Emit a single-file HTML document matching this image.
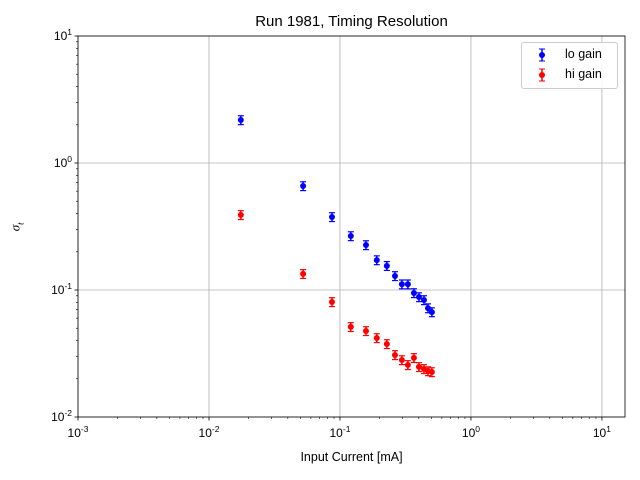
<!DOCTYPE html>
<html><head><meta charset="utf-8"><style>
body{margin:0;background:#fff}
svg{display:block;font-family:"Liberation Sans","DejaVu Sans",sans-serif}
</style></head><body>
<svg id="chart" width="640" height="480" viewBox="0 0 640 480"></svg>
<script>
const currents=[0.0175,0.0523,0.0869,0.121,0.158,0.191,0.228,0.263,0.297,0.330,0.367,0.401,0.438,0.470,0.503];
const loGain=[2.18,0.659,0.376,0.266,0.226,0.172,0.155,0.129,0.111,0.111,0.0947,0.088,0.0834,0.072,0.067];
const hiGain=[0.39,0.134,0.0805,0.0512,0.0476,0.0419,0.0376,0.0308,0.0281,0.0257,0.0292,0.0248,0.0239,0.023,0.0226];
const relErr=[0.08,0.08,0.08,0.08,0.08,0.08,0.08,0.08,0.08,0.08,0.08,0.08,0.08,0.08,0.08];
const xTickExp=[-3,-2,-1,0,1];
const yTickExp=[-2,-1,0,1];

const L=78,R=625,T=36,B=417;
const xmin=-3,xmax=Math.log10(15),ymin=-2,ymax=1;
const X=v=>L+(Math.log10(v)-xmin)/(xmax-xmin)*(R-L);
const Y=v=>B-(Math.log10(v)-ymin)/(ymax-ymin)*(B-T);
const svg=document.getElementById('chart');
const NS='http://www.w3.org/2000/svg';
function mk(tag,at,parent){const e=document.createElementNS(NS,tag);for(const k in at)e.setAttribute(k,at[k]);(parent||svg).appendChild(e);return e;}

xTickExp.forEach(e=>{const x=X(Math.pow(10,e));
 const g=mk('line',{x1:x,x2:x,y1:T,y2:B,stroke:'#b0b0b0','stroke-width':0.8});
 
 });
yTickExp.forEach(e=>{const y=Y(Math.pow(10,e));
 const g=mk('line',{x1:L,x2:R,y1:y,y2:y,stroke:'#b0b0b0','stroke-width':0.8});
 
 });

xTickExp.forEach(e=>{const x=X(Math.pow(10,e));
 mk('line',{x1:x,x2:x,y1:B,y2:B+3.5,stroke:'#000','stroke-width':0.8});
 const t=mk('text',{x:x,y:B+20,'font-size':12,'text-anchor':'middle'});
 t.innerHTML='10<tspan dy="-5" font-size="8.5">'+e+'</tspan>';
 
 
 for(let m=2;m<10;m++){const xv=X(m*Math.pow(10,e));if(xv<=R)mk('line',{x1:xv,x2:xv,y1:B,y2:B+2,stroke:'#000','stroke-width':0.6});}
});
yTickExp.forEach(e=>{const y=Y(Math.pow(10,e));
 mk('line',{x1:L,x2:L-3.5,y1:y,y2:y,stroke:'#000','stroke-width':0.8});
 const t=mk('text',{x:L-6,y:y+4,'font-size':12,'text-anchor':'end'});
 t.innerHTML='10<tspan dy="-5" font-size="8.5">'+e+'</tspan>';
 
 
 if(e<1)for(let m=2;m<10;m++){const yv=Y(m*Math.pow(10,e));mk('line',{x1:L,x2:L-2,y1:yv,y2:yv,stroke:'#000','stroke-width':0.6});}
});

function series(vals,color,name){
 const g=mk('g',{});
 
 
 currents.forEach((c,i)=>{const x=X(c),v=vals[i],e=v*relErr[i];
  const y1=Y(v+e),y2=Y(v-e);
  mk('line',{x1:x,x2:x,y1:y1,y2:y2,stroke:color,'stroke-width':1.5},g);
  mk('line',{x1:x-3,x2:x+3,y1:y1,y2:y1,stroke:color,'stroke-width':1.2},g);
  mk('line',{x1:x-3,x2:x+3,y1:y2,y2:y2,stroke:color,'stroke-width':1.2},g);
  const p=mk('circle',{cx:x,cy:Y(v),r:3,fill:color},g);
  
  
 });
}
series(loGain,'#0000ff','lo-gain-series');
series(hiGain,'#ff0000','hi-gain-series');

mk('rect',{x:L,y:T,width:R-L,height:B-T,fill:'none',stroke:'#000','stroke-width':0.8});
</script>
<div style="position:absolute;left:0;top:0;width:640px;height:480px;pointer-events:none">
<div style="position:absolute;left:78px;width:547px;top:13px;text-align:center;font:15px 'Liberation Sans','DejaVu Sans',sans-serif">Run 1981, Timing Resolution</div>
<div style="position:absolute;left:78px;width:547px;top:450px;text-align:center;font:12.5px 'Liberation Sans','DejaVu Sans',sans-serif">Input Current [mA]</div>
<div style="position:absolute;left:12px;top:218px;transform:rotate(-90deg);font:italic 13px 'Liberation Serif','DejaVu Serif',serif">σ<sub style="font-size:9px">t</sub></div>
<div style="position:absolute;left:521px;top:42px;width:95px;height:45px;border:1px solid #ccc;border-radius:3px;background:rgba(255,255,255,0.85);font:12.5px 'Liberation Sans','DejaVu Sans',sans-serif">
 <div style="position:absolute;left:10px;top:4px;width:85px;height:16px">
  <svg width="20" height="16" style="position:absolute;left:0;top:0"><line x1="10" x2="10" y1="2" y2="14" stroke="#00f" stroke-width="1.5"/><line x1="7" x2="13" y1="2" y2="2" stroke="#00f"/><line x1="7" x2="13" y1="14" y2="14" stroke="#00f"/><circle cx="10" cy="8" r="3" fill="#00f"/></svg>
  <span style="position:absolute;left:33px;top:0">lo gain</span></div>
 <div style="position:absolute;left:10px;top:24px;width:85px;height:16px">
  <svg width="20" height="16" style="position:absolute;left:0;top:0"><line x1="10" x2="10" y1="2" y2="14" stroke="#f00" stroke-width="1.5"/><line x1="7" x2="13" y1="2" y2="2" stroke="#f00"/><line x1="7" x2="13" y1="14" y2="14" stroke="#f00"/><circle cx="10" cy="8" r="3" fill="#f00"/></svg>
  <span style="position:absolute;left:33px;top:0">hi gain</span></div>
</div>
</div>
</body></html>
